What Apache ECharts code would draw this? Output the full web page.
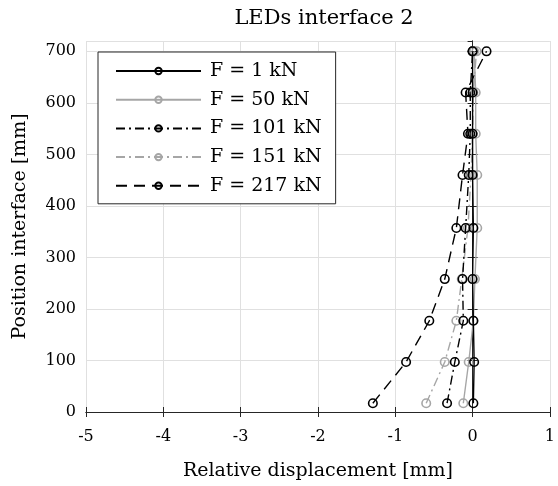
<!DOCTYPE html>
<html>
<head>
<meta charset="utf-8">
<script src="https://cdn.jsdelivr.net/npm/echarts@6/dist/echarts.min.js"></script>
<style>
html,body{margin:0;padding:0;background:#fff;}
#chart{width:558px;height:486px;}
</style>
</head>
<body>
<div id="chart"></div>
<script>
// ---- data ----
const titleText = "LEDs interface 2";
const xLabel = "Relative displacement [mm]";
const yLabel = "Position interface [mm]";
const positions = [17, 97, 177, 258, 357, 460, 540, 620, 700];
const seriesNames = ["F = 1 kN", "F = 50 kN", "F = 101 kN", "F = 151 kN", "F = 217 kN"];
const disp1   = [0.01, 0.02, 0.01, 0.00, 0.01, 0.00, 0.00, 0.00, 0.00];
const disp50  = [-0.12, -0.05, 0.01, 0.03, 0.06, 0.06, 0.04, 0.04, 0.02];
const disp101 = [-0.33, -0.23, -0.12, -0.13, -0.09, -0.05, -0.03, -0.03, 0.00];
const disp151 = [-0.60, -0.36, -0.21, -0.14, -0.06, -0.02, 0.00, 0.01, 0.05];
const disp217 = [-1.29, -0.86, -0.56, -0.36, -0.21, -0.13, -0.06, -0.09, 0.18];
const xTicks = [-5, -4, -3, -2, -1, 0, 1];
const yTicks = [0, 100, 200, 300, 400, 500, 600, 700];

// ---- styles ----
const FONT = "DejaVu Serif";
const black = "#000000";
const gray = "#a6a6a6";
const dashDot = [9, 4, 2, 4];
const dashed = [11, 7];
const allDisp = [disp1, disp50, disp101, disp151, disp217];
const colors = [black, gray, black, gray, black];
const types = ["solid", "solid", dashDot, dashDot, dashed];

const series = allDisp.map((d, i) => ({
  name: seriesNames[i],
  type: "line",
  data: d.map((x, k) => [x, positions[k]]),
  symbol: "circle",
  symbolSize: 8.5,
  showSymbol: true,
  showAllSymbol: true,
  color: colors[i],
  itemStyle: { color: "rgba(255,255,255,0)", borderColor: colors[i], borderWidth: 1.6 },
  lineStyle: { color: colors[i], width: 1.4, type: types[i] },
  z: 10 - i,
  animation: false
}));

const axisLineStyle = { color: "#262626", width: 1 };
const chart = echarts.init(document.getElementById("chart"), null, { renderer: "canvas" });
chart.setOption({
  animation: false,
  backgroundColor: "#fff",
  title: {
    text: titleText,
    left: 319, top: 3, textAlign: "center",
    textStyle: { fontFamily: FONT, fontSize: 21, fontWeight: "normal", color: "#000" }
  },
  grid: { left: 86, right: 6, top: 41, bottom: 68 },
  legend: {
    orient: "vertical",
    left: 98, top: 52,
    data: seriesNames,
    itemWidth: 85, itemHeight: 8, itemGap: 8.7,
    backgroundColor: "#fff",
    borderColor: "#262626", borderWidth: 1,
    padding: [9, 14, 8, 17],
    textStyle: { fontFamily: FONT, fontSize: 19, lineHeight: 20, color: "#000", padding: [0, 0, 0, 4] }
  },
  xAxis: [{
    type: "value", min: xTicks[0], max: xTicks[xTicks.length - 1], interval: 1,
    name: xLabel, nameLocation: "middle", nameGap: 50,
    nameTextStyle: { fontFamily: FONT, fontSize: 19, color: "#000" },
    axisLine: { show: true, lineStyle: axisLineStyle },
    axisTick: { show: true, inside: true, length: 5, lineStyle: axisLineStyle },
    axisLabel: { fontFamily: FONT, fontSize: 16, color: "#000", margin: 17 },
    splitLine: { show: true, lineStyle: { color: "#e0e0e0", width: 1 } }
  }, {
    type: "value", position: "top", min: xTicks[0], max: xTicks[xTicks.length - 1], interval: 1,
    axisLine: { show: true, lineStyle: axisLineStyle },
    axisTick: { show: true, inside: true, length: 5, lineStyle: axisLineStyle },
    axisLabel: { show: false }, splitLine: { show: false }
  }],
  yAxis: [{
    type: "value", min: 0, max: 720, interval: 100,
    name: yLabel, nameLocation: "middle", nameGap: 56,
    nameTextStyle: { fontFamily: FONT, fontSize: 19, color: "#000" },
    axisLine: { show: true, lineStyle: axisLineStyle },
    axisTick: { show: true, inside: true, length: 5, lineStyle: axisLineStyle },
    axisLabel: { fontFamily: FONT, fontSize: 16, color: "#000", margin: 10, showMaxLabel: false,
      formatter: v => (yTicks.indexOf(v) >= 0 ? String(v) : "") },
    splitLine: { show: true, lineStyle: { color: "#e0e0e0", width: 1 } }
  }, {
    type: "value", position: "right", min: 0, max: 720, interval: 100,
    axisLine: { show: true, lineStyle: axisLineStyle },
    axisTick: { show: true, inside: true, length: 5, lineStyle: axisLineStyle },
    axisLabel: { show: false }, splitLine: { show: false }
  }],
  series: series
});
</script>
</body>
</html>
